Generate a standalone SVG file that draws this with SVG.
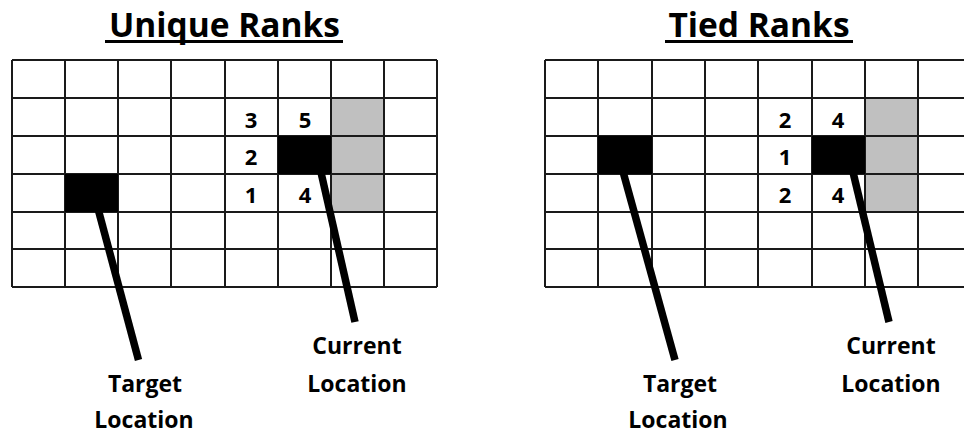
<svg xmlns="http://www.w3.org/2000/svg" width="964" height="434" viewBox="0 0 964 434">
<defs>
<style>
.grid{fill:none;stroke:#1a1a1a;stroke-width:2}
.gray{fill:#c0c0c0}
.blk{fill:#000}
.num{font-family:"Open Sans","Liberation Sans",sans-serif;font-weight:bold;font-size:22px;fill:#000;text-anchor:middle}
.lbl{font-family:"Open Sans","Liberation Sans",sans-serif;font-weight:bold;font-size:23px;fill:#000;text-anchor:middle}
.ttl{font-family:"Open Sans","Liberation Sans",sans-serif;font-weight:bold;font-size:33.5px;fill:#000;text-anchor:middle}
.conn{stroke:#000;stroke-width:7.5;stroke-linecap:butt}
</style>
</defs>
<rect width="964" height="434" fill="#fff"/>

<g id="unique-title">
<text class="ttl" x="224.5" y="37">Unique Ranks</text>
<rect x="105" y="40" width="238" height="3" fill="#000"/>
</g>
<g id="tied-title">
<text class="ttl" x="759" y="37">Tied Ranks</text>
<rect x="665" y="40" width="188" height="3" fill="#000"/>
</g>

<g id="unique-grid">
<rect class="gray" x="331" y="98" width="53" height="114"/>
<path class="grid" d="M12 60H437M12 98H437M12 136H437M12 174H437M12 212H437M12 249H437M12 287H437M12 60V287M65 60V287M118 60V287M171 60V287M225 60V287M278 60V287M331 60V287M384 60V287M437 60V287"/>
<g id="unique-ranks">
<text class="num" x="251" y="127.5">3</text>
<text class="num" x="305" y="127.5">5</text>
<text class="num" x="251" y="165">2</text>
<text class="num" x="251" y="203">1</text>
<text class="num" x="305" y="203">4</text>
</g>
</g>

<g id="tied-grid">
<rect class="gray" x="865" y="98" width="53" height="114"/>
<path class="grid" d="M545 60H970M545 98H970M545 136H970M545 174H970M545 212H970M545 249H970M545 287H970M545 60V287M598 60V287M652 60V287M705 60V287M758 60V287M812 60V287M865 60V287M918 60V287"/>
<g id="tied-ranks">
<text class="num" x="785" y="127.5">2</text>
<text class="num" x="838" y="127.5">4</text>
<text class="num" x="785" y="165">1</text>
<text class="num" x="785" y="203">2</text>
<text class="num" x="838" y="203">4</text>
</g>
</g>

<g id="connectors">
<line class="conn" x1="97" y1="205" x2="138.5" y2="360"/>
<line class="conn" x1="320" y1="168" x2="355" y2="322"/>
<line class="conn" x1="622" y1="168" x2="675" y2="360"/>
<line class="conn" x1="852" y1="168" x2="889" y2="322"/>
</g>

<g id="unique-target">
<rect class="blk" x="65" y="174" width="53" height="38"/>
<text class="lbl" x="145" y="392">Target</text>
<text class="lbl" x="144" y="428">Location</text>
</g>
<g id="unique-current">
<rect class="blk" x="278" y="136" width="53" height="38"/>
<text class="lbl" x="357" y="354">Current</text>
<text class="lbl" x="357" y="392">Location</text>
</g>
<g id="tied-target">
<rect class="blk" x="598" y="136" width="54" height="38"/>
<text class="lbl" x="680" y="392">Target</text>
<text class="lbl" x="678" y="428">Location</text>
</g>
<g id="tied-current">
<rect class="blk" x="812" y="136" width="53" height="38"/>
<text class="lbl" x="891" y="354">Current</text>
<text class="lbl" x="891" y="392">Location</text>
</g>
</svg>
